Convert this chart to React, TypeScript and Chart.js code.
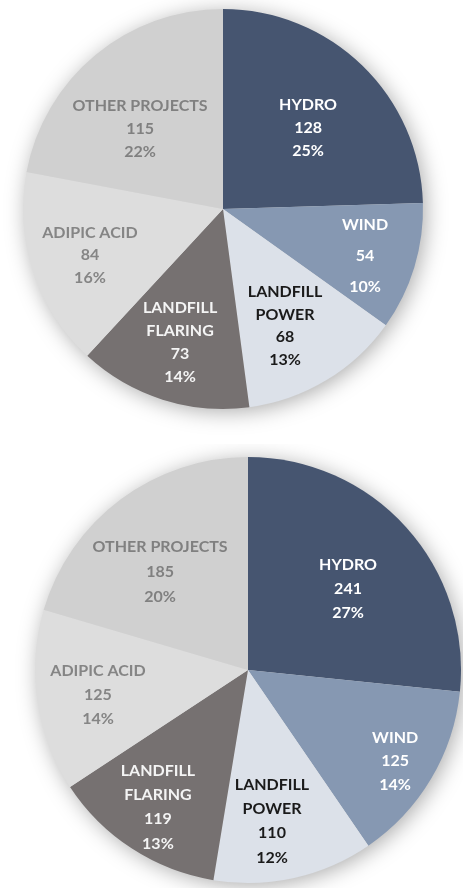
import React, { useEffect, useRef } from "react";
import { Chart, registerables } from "chart.js";

Chart.register(...registerables);

const categories = ["HYDRO", "WIND", "LANDFILL POWER", "LANDFILL FLARING", "ADIPIC ACID", "OTHER PROJECTS"];
const labelLines = [["HYDRO"], ["WIND"], ["LANDFILL", "POWER"], ["LANDFILL", "FLARING"], ["ADIPIC ACID"], ["OTHER PROJECTS"]];
const valuesTop = [128, 54, 68, 73, 84, 115];
const valuesBottom = [241, 125, 110, 119, 125, 185];

const sliceColors = ["#465570", "#8698b2", "#dce1e9", "#767171", "#dddddd", "#d0d0d0"];
const textColors = ["#ffffff", "#ffffff", "#1a1a1a", "#f4f4f4", "#858585", "#808080"];

// label placement: [radius fraction, angle delta (deg), line height]
const placeTop = [
  [0.587, 2.3, 23],
  [0.748, 1.4, 31],
  [0.662, 3.1, 22.7],
  [0.699, 0.3, 23],
  [0.704, -0.8, 22.5],
  [0.576, -6.4, 23],
];
const placeBottom = [
  [0.604, 3.1, 24],
  [0.812, 1.0, 23.5],
  [0.718, 3.5, 24.3],
  [0.77, 0.3, 24.3],
  [0.714, -1.0, 24],
  [0.618, -5.1, 25],
];

const FONT = "bold 16px Lato, 'Open Sans', sans-serif";

function makePlugins(place: number[][]) {
  return [
    {
      id: "shadowDisc",
      beforeDatasetsDraw(chart: any) {
        const meta = chart.getDatasetMeta(0);
        const a = meta.data[0];
        if (!a) return;
        const ctx = chart.ctx;
        ctx.save();
        ctx.shadowColor = "rgba(0,0,0,0.35)";
        ctx.shadowBlur = 22;
        ctx.shadowOffsetX = 3;
        ctx.shadowOffsetY = 3;
        ctx.fillStyle = "#d8d8d8";
        ctx.beginPath();
        ctx.arc(a.x, a.y, a.outerRadius - 1, 0, Math.PI * 2);
        ctx.fill();
        ctx.restore();
      },
    },
    {
      id: "sliceLabels",
      afterDatasetsDraw(chart: any) {
        const meta = chart.getDatasetMeta(0);
        const data = chart.data.datasets[0].data as number[];
        const total = data.reduce((s, v) => s + v, 0);
        const ctx = chart.ctx;
        ctx.save();
        ctx.font = FONT;
        ctx.textAlign = "center";
        ctx.textBaseline = "middle";
        meta.data.forEach((arc: any, i: number) => {
          const [frac, delta, lh] = place[i];
          const mid = (arc.startAngle + arc.endAngle) / 2 + (delta * Math.PI) / 180;
          const cx = arc.x + Math.cos(mid) * arc.outerRadius * frac;
          const cy = arc.y + Math.sin(mid) * arc.outerRadius * frac;
          const lines = [...labelLines[i], String(data[i]), Math.round((data[i] / total) * 100) + "%"];
          const y0 = cy - ((lines.length - 1) * lh) / 2;
          ctx.fillStyle = textColors[i];
          lines.forEach((t, k) => ctx.fillText(t, cx, y0 + k * lh));
        });
        ctx.restore();
      },
    },
  ];
}

function PieChart(props: { values: number[]; top: number; padding: any; place: number[][] }) {
  const ref = useRef<HTMLCanvasElement>(null);
  useEffect(() => {
    if (!ref.current) return;
    const chart = new Chart(ref.current, {
      type: "pie",
      data: {
        labels: categories,
        datasets: [
          {
            data: props.values,
            backgroundColor: sliceColors,
            borderWidth: 0,
          },
        ],
      },
      options: {
        animation: false,
        responsive: false,
        maintainAspectRatio: false,
        layout: { padding: props.padding },
        plugins: { legend: { display: false }, tooltip: { enabled: false } },
      },
      plugins: makePlugins(props.place) as any,
    });
    return () => chart.destroy();
  }, []);
  return (
    <div style={{ position: "absolute", left: 0, top: props.top, width: 463, height: 444 }}>
      <canvas ref={ref} width={463} height={444} style={{ width: 463, height: 444 }} />
    </div>
  );
}

export default function App() {
  return (
    <div style={{ position: "absolute", left: 0, top: 0, width: 463, height: 888, background: "#ffffff" }}>
      <PieChart values={valuesTop} top={0} padding={{ left: 23, right: 40, top: 9, bottom: 35 }} place={placeTop} />
      <PieChart values={valuesBottom} top={444} padding={{ left: 35, right: 2, top: 12, bottom: 4 }} place={placeBottom} />
    </div>
  );
}
